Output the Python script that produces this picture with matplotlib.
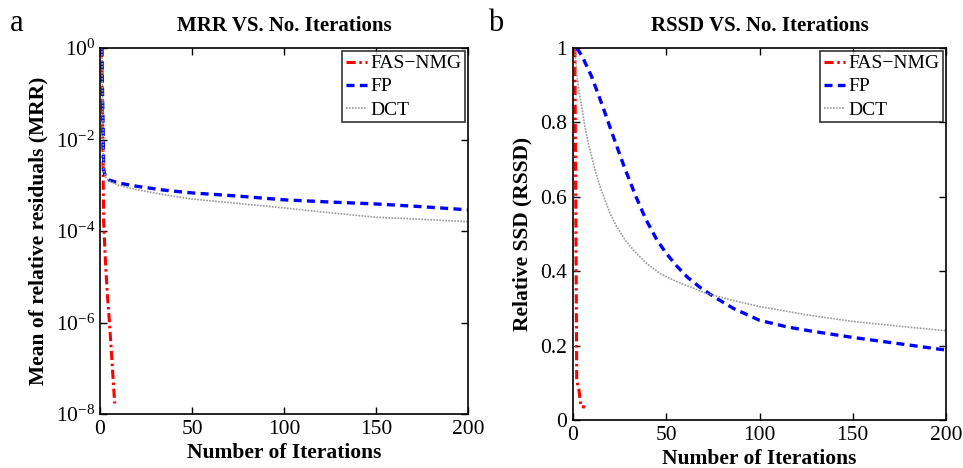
import matplotlib
matplotlib.use("Agg")
import matplotlib.pyplot as plt
import numpy as np

plt.rcParams["font.family"] = ["Liberation Serif", "DejaVu Serif"]
plt.rcParams["mathtext.fontset"] = "custom"
plt.rcParams["mathtext.rm"] = "Liberation Serif"
plt.rcParams["mathtext.it"] = "Liberation Serif:italic"
plt.rcParams["mathtext.bf"] = "Liberation Serif:bold"

# ---- data: MRR (panel a) ----
mrr_fas_x = [1, 2, 3, 4, 5, 6, 7, 8]
mrr_fas_y = [1.0, 1.5e-4, 2e-5, 4e-6, 1.2e-6, 3e-7, 7e-8, 1.7e-8]
mrr_fp_x = [1, 2, 3, 5, 10, 20, 35, 50, 75, 100, 125, 150, 175, 200]
mrr_fp_y = [1.0, 2.2e-3, 1.5e-3, 1.3e-3, 1.12e-3, 9.5e-4, 7.8e-4, 6.8e-4, 5.8e-4, 4.8e-4, 4.3e-4, 3.9e-4, 3.4e-4, 2.9e-4]
mrr_dct_x = [1, 2, 3, 5, 10, 20, 35, 50, 75, 100, 125, 150, 175, 200]
mrr_dct_y = [1.0, 2.2e-3, 1.5e-3, 1.25e-3, 1.0e-3, 8e-4, 6.2e-4, 5e-4, 4e-4, 3.2e-4, 2.5e-4, 2.0e-4, 1.8e-4, 1.6e-4]

# ---- data: RSSD (panel b) ----
rssd_fas_x = [1, 2, 3.2, 3.8, 4.3, 6.5]
rssd_fas_y = [1.0, 0.107, 0.08, 0.054, 0.036, 0.035]
rssd_fp_x = [2, 5, 10, 16, 21.6, 27.5, 33.8, 39, 45, 50, 55.4, 61.3, 68, 75, 86, 100, 115, 129, 150, 175, 200]
rssd_fp_y = [1.0, 0.977, 0.923, 0.842, 0.762, 0.68, 0.60, 0.54, 0.484, 0.448, 0.415, 0.384, 0.357, 0.333, 0.30,
             0.268, 0.25, 0.238, 0.222, 0.205, 0.188]
rssd_dct_x = [1, 2, 3.4, 4.7, 6.4, 8.2, 10, 11.8, 14.5, 17.2, 19.8, 23.4, 27.9, 33.2, 39.5, 46.6, 53.8, 62.7, 71.6,
              87, 100, 125, 150, 175, 200]
rssd_dct_y = [1.0, 0.93, 0.878, 0.842, 0.788, 0.744, 0.708, 0.672, 0.627, 0.591, 0.556, 0.52, 0.484, 0.452, 0.421,
              0.394, 0.376, 0.358, 0.34, 0.32, 0.305, 0.283, 0.265, 0.252, 0.24]

labels = ["FAS\u2212NMG", "FP", "DCT"]

fig = plt.figure(figsize=(9.63, 4.68), dpi=100)
ax1 = fig.add_axes([100 / 963, 54 / 468, 368 / 963, 366 / 468])
ax2 = fig.add_axes([573 / 963, 48 / 468, 373 / 963, 372 / 468])


def draw(ax, fas, fp, dct):
    ax.plot(fas[0], fas[1], color="red", linestyle=(0, (3, 1.2, 0.8, 1.2)), linewidth=2.2, label=labels[0])
    ax.plot(fp[0], fp[1], color="blue", linestyle=(0, (2.4, 1.6)), linewidth=2.4, label=labels[1])
    ax.plot(dct[0], dct[1], color="#999999", linestyle=(0, (1, 0.8)), linewidth=1.2, label=labels[2])
    ax.set_xlim(0, 200)
    ax.set_xticks([0, 50, 100, 150, 200])
    ax.tick_params(direction="in", top=True, right=True, labelsize=15.5, length=5, width=1)
    for s in ax.spines.values():
        s.set_linewidth(1.2)
    leg = ax.legend(loc="upper right", fontsize=14, frameon=True, fancybox=False,
                    edgecolor="black", handlelength=1.1, handletextpad=0.15,
                    borderpad=0.2, labelspacing=0.28, borderaxespad=0.15)
    leg.get_frame().set_linewidth(1.2)


draw(ax1, (mrr_fas_x, mrr_fas_y), (mrr_fp_x, mrr_fp_y), (mrr_dct_x, mrr_dct_y))
ax1.set_yscale("log")
ax1.set_ylim(1e-8, 1)
ax1.set_yticks([1e-8, 1e-6, 1e-4, 1e-2, 1])
ax1.set_yticklabels([r"$10^{-8}$", r"$10^{-6}$", r"$10^{-4}$", r"$10^{-2}$", r"$10^{0}$"])
ax1.yaxis.set_minor_locator(matplotlib.ticker.NullLocator())
ax1.tick_params(axis="y", pad=3.5)
ax1.tick_params(axis="x", pad=4.5)
ax1.set_xlabel("Number of Iterations", fontsize=15.5, fontweight="bold", labelpad=3)
ax1.set_ylabel("Mean of relative residuals (MRR)", fontsize=15.5, fontweight="bold", labelpad=5)
ax1.set_title("MRR VS. No. Iterations", fontsize=15, fontweight="bold", pad=12)

draw(ax2, (rssd_fas_x, rssd_fas_y), (rssd_fp_x, rssd_fp_y), (rssd_dct_x, rssd_dct_y))
ax2.set_ylim(0, 1)
ax2.set_yticks([0, 0.2, 0.4, 0.6, 0.8, 1])
ax2.set_yticklabels(["0", "0.2", "0.4", "0.6", "0.8", "1"])
ax2.tick_params(axis="y", pad=4.5)
ax2.tick_params(axis="x", pad=4.5)
ax2.set_xlabel("Number of Iterations", fontsize=15.5, fontweight="bold", labelpad=2.5)
ax2.set_ylabel("Relative SSD (RSSD)", fontsize=15.5, fontweight="bold", labelpad=5)
ax2.set_title("RSSD VS. No. Iterations", fontsize=15, fontweight="bold", pad=12)

fig.text(10 / 963, 1 - 31 / 468, "a", fontsize=22, va="baseline")
fig.text(488 / 963, 1 - 31 / 468, "b", fontsize=22, va="baseline")

fig.savefig("out.png", dpi=100)
